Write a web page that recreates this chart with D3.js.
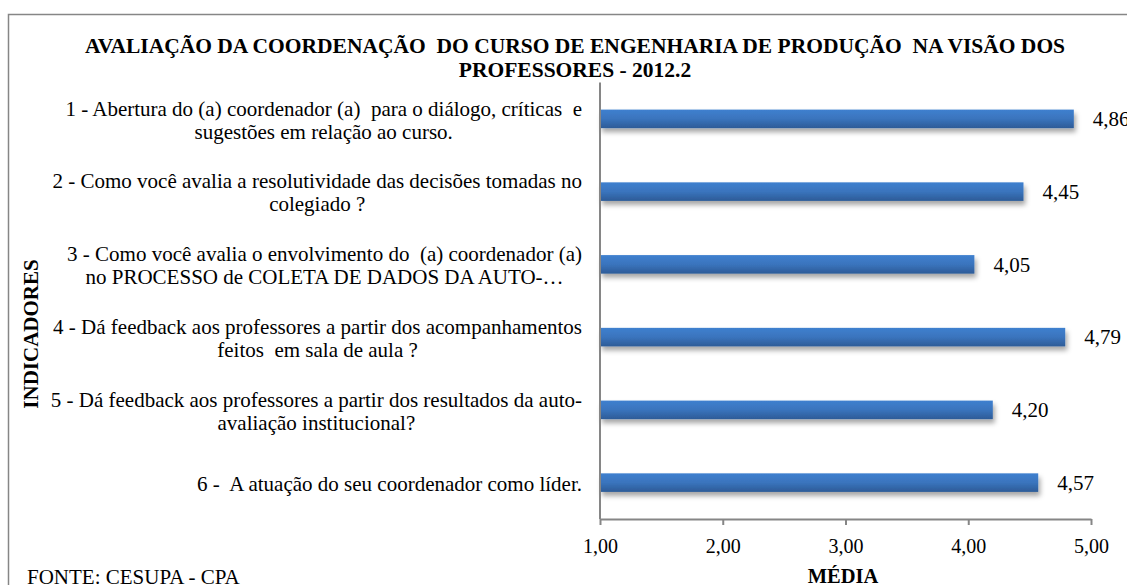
<!DOCTYPE html>
<html>
<head>
<meta charset="utf-8">
<script src="https://cdn.jsdelivr.net/npm/d3@7"></script>
<style>
  body { margin: 0; background: #fff; }
  text { font-family: "Liberation Serif", "Times New Roman", serif; fill: #000; white-space: pre; }
</style>
</head>
<body>
<div id="chart"></div>
<script>
// categories (each line of the wrapped label)
var categories = [
    ["1 - Abertura do (a) coordenador (a)  para o diálogo, críticas  e", "sugestões em relação ao curso."],
    ["2 - Como você avalia a resolutividade das decisões tomadas no", "colegiado ?"],
    ["3 - Como você avalia o envolvimento do  (a) coordenador (a)", "no PROCESSO de COLETA DE DADOS DA AUTO-…"],
    ["4 - Dá feedback aos professores a partir dos acompanhamentos", "feitos  em sala de aula ?"],
    ["5 - Dá feedback aos professores a partir dos resultados da auto-", "avaliação institucional?"],
    ["6 -  A atuação do seu coordenador como líder."]
];
var medias = [4.86, 4.45, 4.05, 4.79, 4.20, 4.57];
var tickValues = [1, 2, 3, 4, 5];
var titleLines = ["AVALIAÇÃO DA COORDENAÇÃO  DO CURSO DE ENGENHARIA DE PRODUÇÃO  NA VISÃO DOS", "PROFESSORES - 2012.2"];

var W = 1127, H = 585;
var fmt = function(v){ return d3.format(".2f")(v).replace(".", ","); };

var svg = d3.select("#chart").append("svg")
    .attr("width", W)
    .attr("height", H);

var defs = svg.append("defs");
var grad = defs.append("linearGradient")
    .attr("id", "barGrad")
    .attr("x1", 0).attr("y1", 0).attr("x2", 0).attr("y2", 1);
grad.append("stop").attr("offset", "0%").attr("stop-color", "#3f80cf");
grad.append("stop").attr("offset", "50%").attr("stop-color", "#3a74bd");
grad.append("stop").attr("offset", "100%").attr("stop-color", "#2d5b97");

var shadow = defs.append("filter").attr("id", "shadow")
    .attr("x", "-5%").attr("y", "-50%").attr("width", "110%").attr("height", "250%");
shadow.append("feDropShadow")
    .attr("dx", 2).attr("dy", 4).attr("stdDeviation", 2.5)
    .attr("flood-color", "#000").attr("flood-opacity", 0.35);

// outer border
svg.append("rect")
    .attr("x", 8.5).attr("y", 14.5)
    .attr("width", 1300).attr("height", 700)
    .attr("fill", "none")
    .attr("stroke", "#868686")
    .attr("stroke-width", 1.5);

var x = d3.scaleLinear()
    .domain([1, 5])
    .range([600, 1091]);

var y = d3.scaleBand()
    .domain(d3.range(categories.length))
    .range([82.5, 519])
    .paddingInner(0.745)
    .paddingOuter(0.3725);

// title
svg.append("g").selectAll("text")
    .data(titleLines)
    .enter().append("text")
    .attr("x", 575)
    .attr("y", function(d, i){ return 53 + i * 24; })
    .attr("text-anchor", "middle")
    .style("font-size", "21.5px")
    .style("font-weight", "bold")
    .text(function(d){ return d; });

// bars
svg.append("g").selectAll("rect")
    .data(medias)
    .enter().append("rect")
    .attr("x", x(1))
    .attr("y", function(d, i){ return y(i); })
    .attr("width", function(d){ return x(d) - x(1); })
    .attr("height", y.bandwidth())
    .attr("fill", "url(#barGrad)")
    .attr("filter", "url(#shadow)");

// value labels
svg.append("g").selectAll("text")
    .data(medias)
    .enter().append("text")
    .attr("x", function(d){ return x(d) + 19; })
    .attr("y", function(d, i){ return y(i) + y.bandwidth() / 2; })
    .attr("dy", "0.35em")
    .style("font-size", "21px")
    .text(fmt);

// x axis
var xAxis = svg.append("g")
    .attr("transform", "translate(0,519)")
    .call(d3.axisBottom(x).tickValues(tickValues).tickSize(6).tickSizeOuter(0).tickFormat(fmt));
xAxis.select(".domain").attr("stroke", "#868686").attr("stroke-width", 2);
xAxis.selectAll(".tick line").attr("stroke", "#868686").attr("stroke-width", 2);
xAxis.selectAll(".tick text")
    .attr("y", 20)
    .style("font-family", "'Liberation Serif', 'Times New Roman', serif")
    .style("font-size", "20px")
    .attr("fill", "#000");

// y axis line
svg.append("line")
    .attr("x1", x(1)).attr("x2", x(1))
    .attr("y1", 82.5).attr("y2", 519)
    .attr("stroke", "#868686")
    .attr("stroke-width", 2);

// category labels: lines centred on each other, block right aligned
var labelRight = 582;
var labels = svg.append("g");
categories.forEach(function(lines, i){
    var g = labels.append("g");
    var cy = y(i) + y.bandwidth() / 2 + 1;
    var lh = 23;
    var texts = g.selectAll("text")
        .data(lines)
        .enter().append("text")
        .attr("y", function(d, j){ return cy + (j - (lines.length - 1) / 2) * lh; })
        .attr("dy", "0.35em")
        .attr("text-anchor", "middle")
        .style("font-size", "21px")
        .text(function(d){ return d; });
    var maxW = d3.max(texts.nodes(), function(n){ return n.getComputedTextLength(); });
    texts.attr("x", labelRight - maxW / 2);
});

// axis titles
svg.append("text")
    .attr("transform", "translate(31,334) rotate(-90)")
    .attr("text-anchor", "middle")
    .attr("dy", "0.35em")
    .style("font-size", "21px")
    .style("font-weight", "bold")
    .text("INDICADORES");

svg.append("text")
    .attr("x", 843)
    .attr("y", 583)
    .attr("text-anchor", "middle")
    .style("font-size", "20.5px")
    .style("font-weight", "bold")
    .text("MÉDIA");

svg.append("text")
    .attr("x", 27)
    .attr("y", 584)
    .style("font-size", "21px")
    .text("FONTE: CESUPA - CPA");
</script>
</body>
</html>
